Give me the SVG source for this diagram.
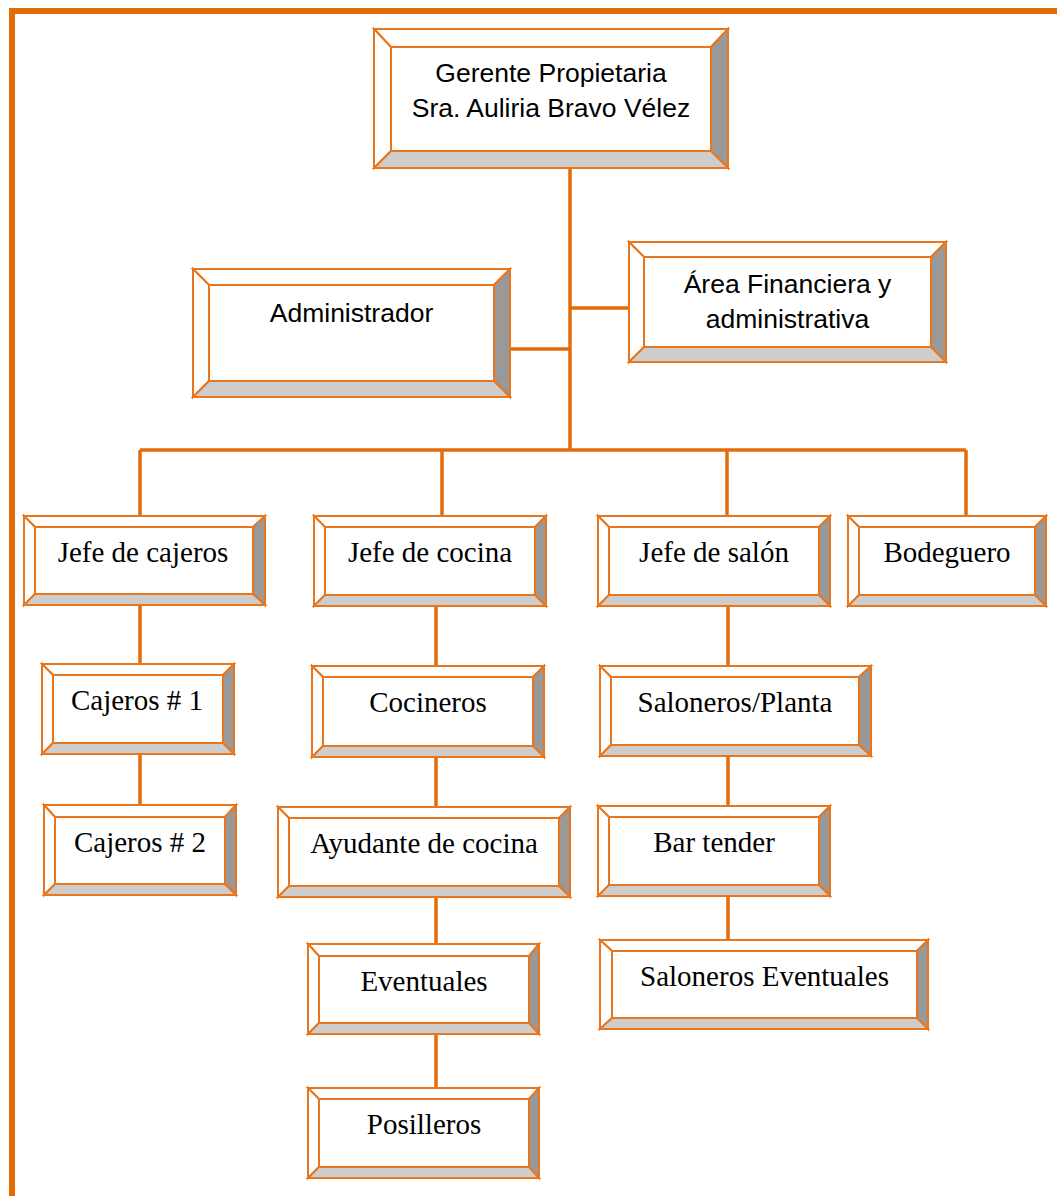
<svg xmlns="http://www.w3.org/2000/svg" width="1057" height="1196" viewBox="0 0 1057 1196">
  <style>
    .frame { fill: none; stroke: #E36C09; stroke-width: 6; }
    .link { fill: none; stroke: #E36C09; stroke-width: 3.5; }
    .box polygon, .box rect { stroke: #E9761C; stroke-width: 2; stroke-linejoin: miter; }
    .lt { fill: #FFFFFF; }
    .rt { fill: #999999; }
    .bt { fill: #CDCDCD; }
    .face { fill: #FFFFFF; }
    .sans { font-family: "Liberation Sans", Arial, sans-serif; font-size: 26.5px; fill: #000; text-anchor: middle; }
    .serif { font-family: "Liberation Serif", "Times New Roman", serif; font-size: 29px; fill: #000; text-anchor: middle; }
  </style>

  <rect width="1057" height="1196" fill="#FFFFFF"/>

  <!-- page frame: top and left rules -->
  <path class="frame" d="M12,1196 V11 H1057"/>

  <!-- connectors -->
  <g id="connectors">
    <path class="link" d="M570,168 V450"/>
    <path class="link" d="M510,349 H570"/>
    <path class="link" d="M570,308 H629"/>
    <path class="link" d="M140,450 H966"/>
    <path class="link" d="M140,450 V516"/>
    <path class="link" d="M442,450 V516"/>
    <path class="link" d="M727,450 V516"/>
    <path class="link" d="M966,450 V516"/>
    <path class="link" d="M140,605 V664"/>
    <path class="link" d="M140,748 V805"/>
    <path class="link" d="M436,606 V666"/>
    <path class="link" d="M436,743 V807"/>
    <path class="link" d="M436,886 V944"/>
    <path class="link" d="M436,1028 V1088"/>
    <path class="link" d="M728,606 V666"/>
    <path class="link" d="M728,756 V806"/>
    <path class="link" d="M728,880 V940"/>
  </g>

  <!-- bevelled boxes: top/left light, right dark, bottom mid grey -->
  <g id="gerente" class="box">
    <polygon class="lt" points="374,29 728,29 711,47 391,47"/>
    <polygon class="lt" points="374,29 391,47 391,151 374,168"/>
    <polygon class="rt" points="728,29 728,168 711,151 711,47"/>
    <polygon class="bt" points="374,168 391,151 711,151 728,168"/>
    <rect class="face" x="391" y="47" width="320" height="104"/>
    <text class="sans" x="551" y="82">Gerente Propietaria</text>
    <text class="sans" x="551" y="117">Sra. Auliria Bravo Vélez</text>
  </g>

  <g id="administrador" class="box">
    <polygon class="lt" points="193,269 510,269 494,285 209,285"/>
    <polygon class="lt" points="193,269 209,285 209,381 193,397"/>
    <polygon class="rt" points="510,269 510,397 494,381 494,285"/>
    <polygon class="bt" points="193,397 209,381 494,381 510,397"/>
    <rect class="face" x="209" y="285" width="285" height="96"/>
    <text class="sans" x="351.5" y="322">Administrador</text>
  </g>

  <g id="area-financiera" class="box">
    <polygon class="lt" points="629,242 946,242 931,257 644,257"/>
    <polygon class="lt" points="629,242 644,257 644,347 629,362"/>
    <polygon class="rt" points="946,242 946,362 931,347 931,257"/>
    <polygon class="bt" points="629,362 644,347 931,347 946,362"/>
    <rect class="face" x="644" y="257" width="287" height="90"/>
    <text class="sans" x="787.5" y="293">Área Financiera y</text>
    <text class="sans" x="787.5" y="328">administrativa</text>
  </g>

  <g id="jefe-cajeros" class="box">
    <polygon class="lt" points="24,516 265,516 253,527 35,527"/>
    <polygon class="lt" points="24,516 35,527 35,594 24,605"/>
    <polygon class="rt" points="265,516 265,605 253,594 253,527"/>
    <polygon class="bt" points="24,605 35,594 253,594 265,605"/>
    <rect class="face" x="35" y="527" width="218" height="67"/>
    <text class="serif" x="143" y="562">Jefe de cajeros</text>
  </g>

  <g id="jefe-cocina" class="box">
    <polygon class="lt" points="314,516 546,516 535,527 325,527"/>
    <polygon class="lt" points="314,516 325,527 325,595 314,606"/>
    <polygon class="rt" points="546,516 546,606 535,595 535,527"/>
    <polygon class="bt" points="314,606 325,595 535,595 546,606"/>
    <rect class="face" x="325" y="527" width="210" height="68"/>
    <text class="serif" x="430" y="562">Jefe de cocina</text>
  </g>

  <g id="jefe-salon" class="box">
    <polygon class="lt" points="598,516 830,516 819,527 609,527"/>
    <polygon class="lt" points="598,516 609,527 609,595 598,606"/>
    <polygon class="rt" points="830,516 830,606 819,595 819,527"/>
    <polygon class="bt" points="598,606 609,595 819,595 830,606"/>
    <rect class="face" x="609" y="527" width="210" height="68"/>
    <text class="serif" x="714" y="562">Jefe de salón</text>
  </g>

  <g id="bodeguero" class="box">
    <polygon class="lt" points="848,516 1046,516 1035,527 859,527"/>
    <polygon class="lt" points="848,516 859,527 859,595 848,606"/>
    <polygon class="rt" points="1046,516 1046,606 1035,595 1035,527"/>
    <polygon class="bt" points="848,606 859,595 1035,595 1046,606"/>
    <rect class="face" x="859" y="527" width="176" height="68"/>
    <text class="serif" x="947" y="562">Bodeguero</text>
  </g>

  <g id="cajeros-1" class="box">
    <polygon class="lt" points="42,664 234,664 223,675 53,675"/>
    <polygon class="lt" points="42,664 53,675 53,743 42,754"/>
    <polygon class="rt" points="234,664 234,754 223,743 223,675"/>
    <polygon class="bt" points="42,754 53,743 223,743 234,754"/>
    <rect class="face" x="53" y="675" width="170" height="68"/>
    <text class="serif" x="137" y="710">Cajeros # 1</text>
  </g>

  <g id="cajeros-2" class="box">
    <polygon class="lt" points="44,805 236,805 225,817 55,817"/>
    <polygon class="lt" points="44,805 55,817 55,884 44,895"/>
    <polygon class="rt" points="236,805 236,895 225,884 225,817"/>
    <polygon class="bt" points="44,895 55,884 225,884 236,895"/>
    <rect class="face" x="55" y="817" width="170" height="67"/>
    <text class="serif" x="140" y="852">Cajeros # 2</text>
  </g>

  <g id="cocineros" class="box">
    <polygon class="lt" points="312,666 544,666 533,677 323,677"/>
    <polygon class="lt" points="312,666 323,677 323,746 312,757"/>
    <polygon class="rt" points="544,666 544,757 533,746 533,677"/>
    <polygon class="bt" points="312,757 323,746 533,746 544,757"/>
    <rect class="face" x="323" y="677" width="210" height="69"/>
    <text class="serif" x="428" y="712">Cocineros</text>
  </g>

  <g id="saloneros-planta" class="box">
    <polygon class="lt" points="600,666 871,666 859,677 611,677"/>
    <polygon class="lt" points="600,666 611,677 611,745 600,756"/>
    <polygon class="rt" points="871,666 871,756 859,745 859,677"/>
    <polygon class="bt" points="600,756 611,745 859,745 871,756"/>
    <rect class="face" x="611" y="677" width="248" height="68"/>
    <text class="serif" x="735" y="712">Saloneros/Planta</text>
  </g>

  <g id="ayudante-cocina" class="box">
    <polygon class="lt" points="278,807 570,807 559,818 289,818"/>
    <polygon class="lt" points="278,807 289,818 289,886 278,897"/>
    <polygon class="rt" points="570,807 570,897 559,886 559,818"/>
    <polygon class="bt" points="278,897 289,886 559,886 570,897"/>
    <rect class="face" x="289" y="818" width="270" height="68"/>
    <text class="serif" x="424" y="853">Ayudante de cocina</text>
  </g>

  <g id="bar-tender" class="box">
    <polygon class="lt" points="598,806 830,806 819,817 609,817"/>
    <polygon class="lt" points="598,806 609,817 609,885 598,896"/>
    <polygon class="rt" points="830,806 830,896 819,885 819,817"/>
    <polygon class="bt" points="598,896 609,885 819,885 830,896"/>
    <rect class="face" x="609" y="817" width="210" height="68"/>
    <text class="serif" x="714" y="852">Bar tender</text>
  </g>

  <g id="eventuales" class="box">
    <polygon class="lt" points="308,944 539,944 529,956 319,956"/>
    <polygon class="lt" points="308,944 319,956 319,1023 308,1034"/>
    <polygon class="rt" points="539,944 539,1034 529,1023 529,956"/>
    <polygon class="bt" points="308,1034 319,1023 529,1023 539,1034"/>
    <rect class="face" x="319" y="956" width="210" height="67"/>
    <text class="serif" x="424" y="991">Eventuales</text>
  </g>

  <g id="saloneros-eventuales" class="box">
    <polygon class="lt" points="600,940 928,940 917,951 612,951"/>
    <polygon class="lt" points="600,940 612,951 612,1018 600,1029"/>
    <polygon class="rt" points="928,940 928,1029 917,1018 917,951"/>
    <polygon class="bt" points="600,1029 612,1018 917,1018 928,1029"/>
    <rect class="face" x="612" y="951" width="305" height="67"/>
    <text class="serif" x="764.5" y="986">Saloneros Eventuales</text>
  </g>

  <g id="posilleros" class="box">
    <polygon class="lt" points="308,1088 539,1088 529,1099 319,1099"/>
    <polygon class="lt" points="308,1088 319,1099 319,1167 308,1178"/>
    <polygon class="rt" points="539,1088 539,1178 529,1167 529,1099"/>
    <polygon class="bt" points="308,1178 319,1167 529,1167 539,1178"/>
    <rect class="face" x="319" y="1099" width="210" height="68"/>
    <text class="serif" x="424" y="1134">Posilleros</text>
  </g>
</svg>
